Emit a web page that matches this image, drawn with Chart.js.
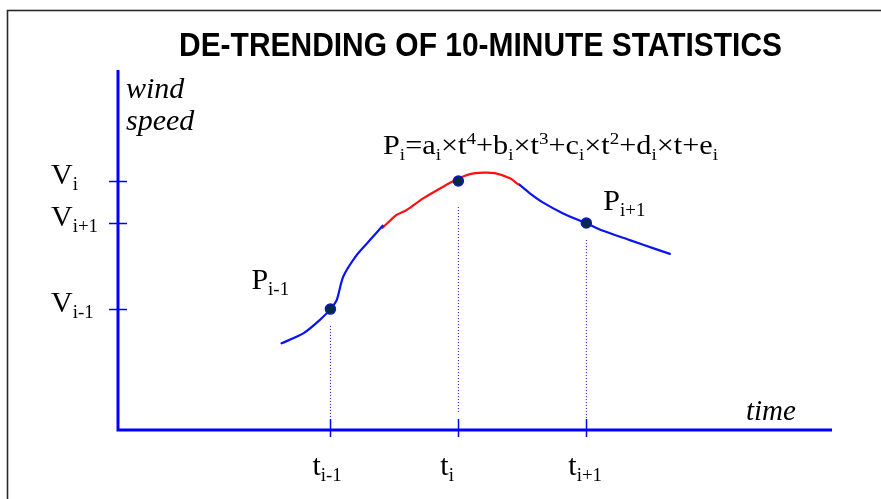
<!DOCTYPE html>
<html>
<head>
<meta charset="utf-8">
<title>De-trending of 10-minute statistics</title>
<script src="https://cdn.jsdelivr.net/npm/chart.js@4"></script>
<style>
  html, body { margin: 0; padding: 0; background: #fff; }
  canvas { display: block; }
</style>
</head>
<body>
<canvas id="detrend-chart" width="881" height="499"></canvas>
<script>
// Key samples: the three 10-minute instants and their wind speeds
const keyNames = ["i-1", "i", "i+1"];
const keyTimes = [16.6, 26.6, 36.6];
const keySpeeds = [4.03, 8.3, 6.9];

// Dotted guides dropped from each key point towards the time axis
const guideTops = [3.47, 7.43, 6.33];
const guideBottoms = [0.4, 0.6, 0.4];

// Wind speed trace, split into rising part, fitted polynomial part, falling part
const riseTimes = [12.78, 14.48, 15.78, 16.6, 17.09, 17.6, 18.65, 19.69, 20.68];
const riseSpeeds = [2.89, 3.22, 3.67, 4.03, 4.33, 5.11, 5.83, 6.33, 6.81];
const fitTimes = [20.68, 21.77, 22.55, 23.85, 25.41, 26.6, 27.5, 28.54, 29.45, 30.63, 31.27];
const fitSpeeds = [6.74, 7.17, 7.33, 7.72, 8.11, 8.38, 8.53, 8.58, 8.56, 8.39, 8.19];
const fallTimes = [31.35, 32.19, 33.23, 34.79, 36.62, 37.91, 40.0, 42.09, 43.13];
const fallSpeeds = [8.19, 7.89, 7.58, 7.22, 6.89, 6.64, 6.33, 6.02, 5.87];

// Axis ranges
const timeMin = 0;
const timeMax = 55.8;
const speedMin = 0;
const speedMax = 12;

const titleText = "DE-TRENDING OF 10-MINUTE STATISTICS";
const axisBlue = "#0000ff";
const subRatio = 0.63;

function toPoints(xs, ys) {
  return xs.map((x, i) => ({ x: x, y: ys[i] }));
}

function serif(size, italic) {
  return (italic ? "italic " : "") + size + 'px "Liberation Serif", "Times New Roman", serif';
}

// parts: [text, kind] where kind 0 = normal, 1 = subscript, 2 = superscript
function partsWidth(ctx, parts, size) {
  let w = 0;
  parts.forEach(([s, k]) => {
    ctx.font = serif(k ? size * subRatio : size);
    w += ctx.measureText(s).width;
  });
  return w;
}

function drawParts(ctx, parts, x, y, size, fitWidth) {
  const natural = partsWidth(ctx, parts, size);
  const sx = fitWidth ? fitWidth / natural : 1;
  ctx.save();
  ctx.translate(x, y);
  ctx.scale(sx, 1);
  ctx.fillStyle = "#000";
  ctx.textBaseline = "alphabetic";
  ctx.textAlign = "left";
  let cx = 0;
  parts.forEach(([s, k]) => {
    ctx.font = serif(k ? size * subRatio : size);
    const dy = k === 1 ? size * 0.2 : k === 2 ? -size * 0.34 : 0;
    ctx.fillText(s, cx, dy);
    cx += ctx.measureText(s).width;
  });
  ctx.restore();
}

// Frame, axes, ticks and all text annotations
const annotations = {
  id: "annotations",
  beforeDraw(chart) {
    const ctx = chart.ctx;
    ctx.save();
    ctx.fillStyle = "#fff";
    ctx.fillRect(0, 0, chart.width, chart.height);
    ctx.strokeStyle = "#2a2a2a";
    ctx.lineWidth = 1.6;
    ctx.strokeRect(7.5, 10.5, chart.width + 20, chart.height + 20);
    ctx.restore();
  },
  afterDraw(chart) {
    const ctx = chart.ctx;
    const area = chart.chartArea;
    const xs = chart.scales.x;
    const ys = chart.scales.y;

    ctx.save();

    // title
    ctx.font = 'bold 34px "Liberation Sans", Arial, sans-serif';
    const tw = ctx.measureText(titleText).width;
    ctx.translate(179, 56);
    ctx.scale(603 / tw, 1);
    ctx.fillStyle = "#000";
    ctx.fillText(titleText, 0, 0);
    ctx.setTransform(1, 0, 0, 1, 0, 0);

    // axes
    ctx.strokeStyle = axisBlue;
    ctx.lineWidth = 3;
    ctx.beginPath();
    ctx.moveTo(area.left, area.top);
    ctx.lineTo(area.left, area.bottom);
    ctx.lineTo(area.right, area.bottom);
    ctx.stroke();

    // ticks crossing the axes
    ctx.lineWidth = 1.5;
    keyTimes.forEach((t) => {
      const px = Math.round(xs.getPixelForValue(t)) + 0.5;
      ctx.beginPath();
      ctx.moveTo(px, area.bottom - 11);
      ctx.lineTo(px, area.bottom + 7);
      ctx.stroke();
    });
    keySpeeds.forEach((v) => {
      const py = Math.round(ys.getPixelForValue(v)) + 0.5;
      ctx.beginPath();
      ctx.moveTo(area.left - 9, py);
      ctx.lineTo(area.left + 9, py);
      ctx.stroke();
    });
    ctx.restore();

    // tick labels
    keyNames.forEach((n, i) => {
      const px = xs.getPixelForValue(keyTimes[i]);
      drawParts(ctx, [["t", 0], [n, 1]], px - 18, area.bottom + 45, 30);
      const py = ys.getPixelForValue(keySpeeds[i]);
      drawParts(ctx, [["V", 0], [n, 1]], 51, py + 3, 30);
    });

    // point labels
    const pPrev = { x: xs.getPixelForValue(keyTimes[0]), y: ys.getPixelForValue(keySpeeds[0]) };
    const pNext = { x: xs.getPixelForValue(keyTimes[2]), y: ys.getPixelForValue(keySpeeds[2]) };
    drawParts(ctx, [["P", 0], [keyNames[0], 1]], pPrev.x - 79, pPrev.y - 20, 30);
    drawParts(ctx, [["P", 0], [keyNames[2], 1]], pNext.x + 17, pNext.y - 13, 30);

    // polynomial fitted between the key points
    drawParts(ctx, [
      ["P", 0], ["i", 1], ["=a", 0], ["i", 1], ["\u00d7t", 0], ["4", 2],
      ["+b", 0], ["i", 1], ["\u00d7t", 0], ["3", 2],
      ["+c", 0], ["i", 1], ["\u00d7t", 0], ["2", 2],
      ["+d", 0], ["i", 1], ["\u00d7t+e", 0], ["i", 1]
    ], 383, 154, 28, 335);

    // axis titles
    ctx.save();
    ctx.fillStyle = "#000";
    ctx.font = serif(30, true);
    ctx.fillText("wind", 126, 98);
    ctx.fillText("speed", 126, 130);
    ctx.font = serif(29, true);
    ctx.fillText("time", 746, 420);
    ctx.restore();
  }
};

const guideSets = keyTimes.map((t, i) => ({
  data: [{ x: t, y: guideTops[i] }, { x: t, y: guideBottoms[i] }],
  borderColor: axisBlue,
  borderWidth: 1,
  borderDash: [1, 2],
  pointRadius: 0,
  tension: 0,
  order: 5
}));

function traceSet(xs, ys, color) {
  return {
    data: toPoints(xs, ys),
    borderColor: color,
    borderWidth: 2.2,
    borderCapStyle: "round",
    pointRadius: 0,
    tension: 0.25,
    order: 3
  };
}

const chart = new Chart(document.getElementById("detrend-chart"), {
  type: "line",
  data: {
    datasets: [
      traceSet(riseTimes, riseSpeeds, "#0a14ee"),
      traceSet(fitTimes, fitSpeeds, "#ff1010"),
      traceSet(fallTimes, fallSpeeds, "#0a14ee"),
      {
        data: toPoints(keyTimes, keySpeeds),
        showLine: false,
        pointRadius: 5,
        pointBackgroundColor: "#042a44",
        pointBorderColor: "#0818c8",
        pointBorderWidth: 1.5,
        order: 1
      },
      ...guideSets
    ]
  },
  options: {
    responsive: false,
    animation: false,
    devicePixelRatio: 1,
    layout: { padding: { left: 118, top: 70, right: 49, bottom: 69 } },
    scales: {
      x: { type: "linear", display: false, min: timeMin, max: timeMax },
      y: { type: "linear", display: false, min: speedMin, max: speedMax }
    },
    plugins: {
      legend: { display: false },
      tooltip: { enabled: false },
      title: { display: false }
    }
  },
  plugins: [annotations]
});
</script>
</body>
</html>
